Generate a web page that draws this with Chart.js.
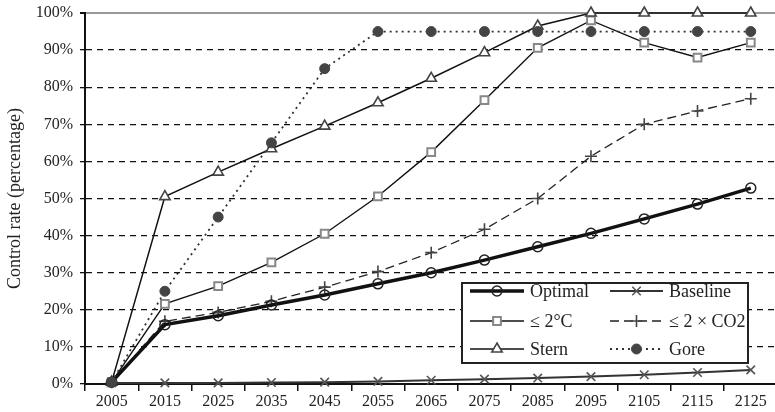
<!DOCTYPE html>
<html>
<head>
<meta charset="utf-8">
<script src="https://cdn.jsdelivr.net/npm/chart.js@4/dist/chart.umd.min.js"></script>
<style>
  html, body { margin: 0; padding: 0; background: #fff; overflow: hidden; }
  #wrap { width: 785px; height: 412px; }
</style>
</head>
<body>
<div id="wrap"><canvas id="chart" width="785" height="412"></canvas></div>
<script>
// Dane (stopa kontroli w %)
const years = ['2005', '2015', '2025', '2035', '2045', '2055', '2065', '2075', '2085', '2095', '2105', '2115', '2125'];
const optimal  = [0.5, 16, 18.4, 21.3, 24, 27, 30, 33.4, 37, 40.6, 44.5, 48.5, 52.8];
const baseline = [0.3, 0.3, 0.3, 0.4, 0.5, 0.7, 1.0, 1.3, 1.6, 2.0, 2.5, 3.1, 3.8];
const twoDeg   = [0.5, 21.6, 26.4, 32.8, 40.5, 50.6, 62.5, 76.5, 90.6, 98, 92, 88, 92];
const twoCO2   = [0.5, 16.9, 19.3, 22.3, 26.1, 30.3, 35.4, 41.7, 50, 61.4, 70, 73.6, 76.9];
const stern    = [0.5, 50.5, 57.1, 63.4, 69.5, 75.8, 82.4, 89.3, 96.5, 100, 100, 100, 100];
const gore     = [0.5, 25, 45, 65, 85, 95, 95, 95, 95, 95, 95, 95, 95];
const yTicks   = [0, 10, 20, 30, 40, 50, 60, 70, 80, 90, 100];

const FONT = '"Liberation Serif", "Times New Roman", serif';
const TEXT = '#222';

/**
 * Rysuj znacznik w legendzie
 */
function drawMarker(ctx, ds, x, y) {
  const opts = {
    pointStyle: ds.pointStyle,
    radius: ds.pointRadius,
    borderWidth: ds.pointBorderWidth,
    rotation: 0
  };
  ctx.save();
  ctx.setLineDash([]);
  ctx.fillStyle = ds.pointBackgroundColor;
  ctx.strokeStyle = ds.pointBorderColor;
  ctx.lineWidth = ds.pointBorderWidth;
  if (Chart.helpers && Chart.helpers.drawPoint) {
    Chart.helpers.drawPoint(ctx, opts, x, y);
  }
  ctx.restore();
}

/**
 * Legenda w ramce, w prawym dolnym rogu
 */
const boxLegend = {
  id: 'boxLegend',
  afterDatasetsDraw(chart) {
    const ctx = chart.ctx;
    const box = { x: 462, y: 283, w: 286, h: 80 };
    ctx.save();
    ctx.fillStyle = '#fff';
    ctx.fillRect(box.x, box.y, box.w, box.h);
    ctx.strokeStyle = '#222';
    ctx.lineWidth = 2;
    ctx.strokeRect(box.x, box.y, box.w, box.h);

    const cols = [{ x1: 470, x2: 524, tx: 530 }, { x1: 610, x2: 663, tx: 669 }];
    const rows = [291, 321, 349];
    chart.data.datasets.forEach((ds, i) => {
      const c = cols[i % 2];
      const y = rows[Math.floor(i / 2)];
      ctx.save();
      ctx.strokeStyle = ds.borderColor;
      ctx.lineWidth = ds.borderWidth;
      ctx.setLineDash(ds.borderDash || []);
      ctx.beginPath();
      ctx.moveTo(c.x1, y);
      ctx.lineTo(c.x2, y);
      ctx.stroke();
      ctx.restore();
      drawMarker(ctx, ds, (c.x1 + c.x2) / 2, y);
      ctx.fillStyle = TEXT;
      ctx.font = '18px ' + FONT;
      ctx.textBaseline = 'middle';
      ctx.textAlign = 'left';
      ctx.fillText(ds.label, c.tx, y + 1);
    });
    ctx.restore();
  }
};

const datasets = [
  {
    label: 'Optimal', data: optimal, order: 1,
    borderColor: '#111', borderWidth: 3.5,
    pointStyle: 'circle', pointRadius: 5, pointBorderWidth: 1.5,
    pointBorderColor: '#222', pointBackgroundColor: 'rgba(255,255,255,0)'
  },
  {
    label: 'Baseline', data: baseline, order: 6,
    borderColor: '#333', borderWidth: 2,
    pointStyle: 'crossRot', pointRadius: 6, pointBorderWidth: 1.6,
    pointBorderColor: '#555', pointBackgroundColor: '#555'
  },
  {
    label: '\u2264 2\u00B0C', data: twoDeg, order: 4,
    borderColor: '#111', borderWidth: 1.4,
    pointStyle: 'rect', pointRadius: 5.5, pointBorderWidth: 2,
    pointBorderColor: '#888', pointBackgroundColor: '#fff'
  },
  {
    label: '\u2264 2 \u00D7 CO2', data: twoCO2, order: 5,
    borderColor: '#222', borderWidth: 1.3, borderDash: [9, 5],
    pointStyle: 'cross', pointRadius: 6, pointBorderWidth: 1.6,
    pointBorderColor: '#444', pointBackgroundColor: '#444'
  },
  {
    label: 'Stern', data: stern, order: 3,
    borderColor: '#111', borderWidth: 1.5,
    pointStyle: 'triangle', pointRadius: 6, pointBorderWidth: 1.6,
    pointBorderColor: '#444', pointBackgroundColor: '#fff'
  },
  {
    label: 'Gore', data: gore, order: 0,
    borderColor: '#333', borderWidth: 1.8, borderDash: [2, 4],
    pointStyle: 'circle', pointRadius: 5, pointBorderWidth: 1,
    pointBorderColor: '#444', pointBackgroundColor: '#444'
  }
];

new Chart(document.getElementById('chart').getContext('2d'), {
  type: 'line',
  data: { labels: years, datasets: datasets.map(d => ({ ...d, tension: 0, clip: false, fill: false })) },
  options: {
    responsive: false,
    animation: false,
    layout: { padding: { left: 0, right: 7, top: 13, bottom: 0 } },
    plugins: { legend: { display: false }, tooltip: { enabled: false } },
    scales: {
      x: {
        offset: true,
        grid: {
          offset: true, drawOnChartArea: false, drawTicks: true,
          tickLength: 7, color: '#111', lineWidth: 1.5
        },
        border: { color: '#111', width: 2 },
        ticks: { color: TEXT, font: { family: FONT, size: 16 }, padding: 1, maxRotation: 0, autoSkip: false },
        afterFit: (scale) => { scale.height = 28; }
      },
      y: {
        min: 0, max: 100,
        afterBuildTicks: (scale) => { scale.ticks = yTicks.map(v => ({ value: v })); },
        grid: {
          drawTicks: true, tickLength: 5, tickColor: '#111',
          color: (c) => (c.tick && c.tick.value === 100 ? '#999' : '#111'),
          lineWidth: (c) => (c.tick && c.tick.value === 100 ? 2 : 1.3)
        },
        border: {
          color: '#111', width: 2,
          dash: (c) => (c.tick && c.tick.value > 0 && c.tick.value < 100 ? [6, 5] : [])
        },
        ticks: {
          color: TEXT, font: { family: FONT, size: 16 }, padding: 7,
          callback: (v) => v + '%'
        },
        title: {
          display: true, text: 'Control rate (percentage)', color: TEXT,
          font: { family: FONT, size: 18 }, padding: { top: 4, bottom: 0 }
        },
        afterFit: (scale) => {
          scale.width = 85;
          scale.paddingTop = 0;
          scale.paddingBottom = 0;
        }
      }
    }
  },
  plugins: [boxLegend]
});
</script>
</body>
</html>
